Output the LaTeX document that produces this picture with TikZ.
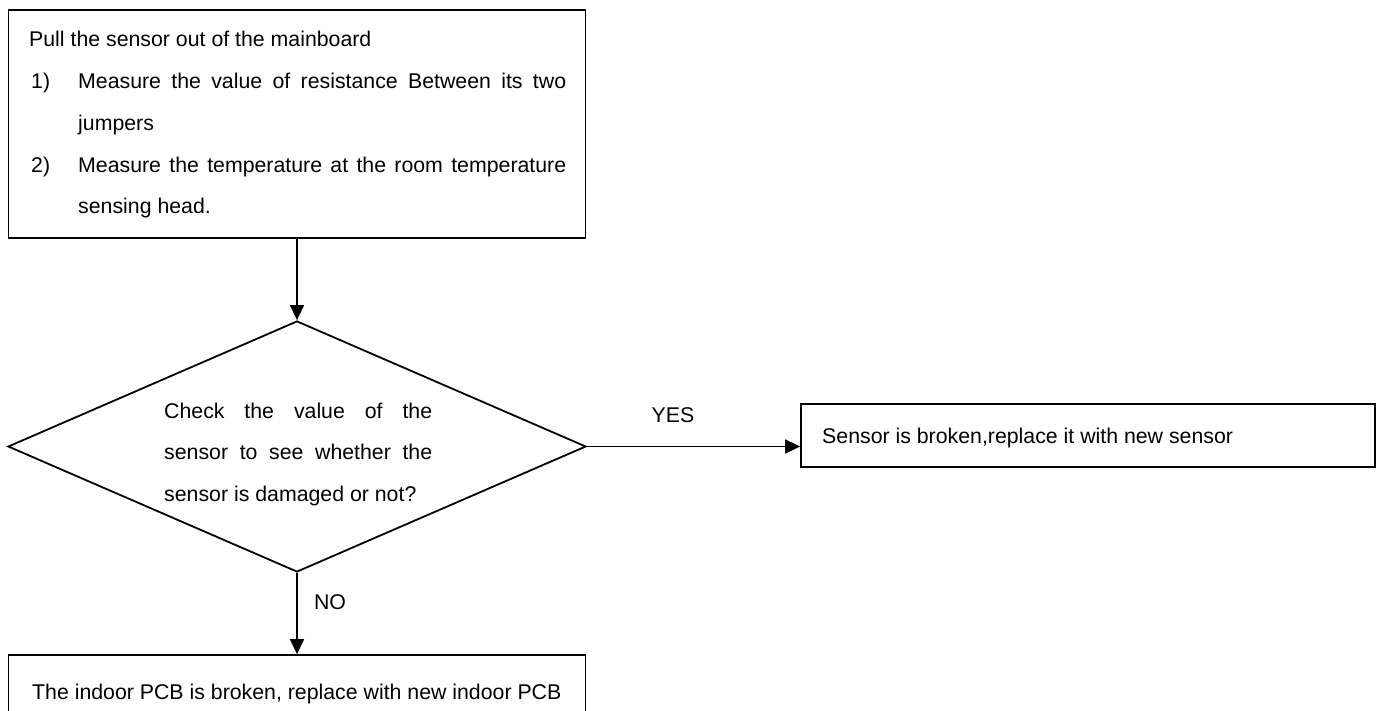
\documentclass[tikz,border=0pt]{standalone}
\usepackage{fontspec}
\setmainfont{Liberation Sans}
\usetikzlibrary{shapes.geometric,arrows.meta}
\begin{document}
\begin{tikzpicture}[x=1pt,y=-1pt,
  font=\fontsize{21.3pt}{25pt}\selectfont,
  boxstyle/.style={draw, rectangle, line width=1.8pt, inner sep=0pt},
  decstyle/.style={draw, diamond, line width=1.8pt, inner sep=0pt},
  txt/.style={anchor=base west, inner sep=0pt},
  lbl/.style={anchor=center, inner sep=0pt},
  arr/.style={line width=1.6pt, -{Triangle[length=15pt,width=14pt]}}]
\useasboundingbox (0,0) rectangle (1384,711);
\clip (0,0) rectangle (1384,711);
\fill[white] (0,0) rectangle (1384,711);

% top box
\node[boxstyle, minimum width=577pt, minimum height=228pt] (top) at (297,124) {};
\node[txt] (t1) at (29,47) {Pull the sensor out of the mainboard};
\node[txt] (n1) at (31,88.75) {1)};
\node[txt] (t2) at (78,88.75) {\makebox[488pt][s]{Measure the value of resistance Between its two}};
\node[txt] (t3) at (78,130.5) {jumpers};
\node[txt] (n2) at (31,172.25) {2)};
\node[txt] (t4) at (78,172.25) {\makebox[488pt][s]{Measure the temperature at the room temperature}};
\node[txt] (t5) at (78,214) {sensing head.};

% decision
\node[decstyle, minimum width=578pt, minimum height=251pt] (dia) at (297,446.5) {};
\node[txt] (d1) at (164,418.6) {\makebox[268pt][s]{Check the value of the}};
\node[txt] (d2) at (164,459.5) {\makebox[268pt][s]{sensor to see whether the}};
\node[txt] (d3) at (164,501.5) {sensor is damaged or not?};

% right box
\node[boxstyle, minimum width=574pt, minimum height=63pt] (rb) at (1088,435.5) {};
\node[txt] (r1) at (822,443.5) {Sensor is broken,replace it with new sensor};

% bottom box
\node[boxstyle, minimum width=577pt, minimum height=75pt] (bb) at (297,692.5) {};
\node[txt] (b1) at (32,699.5) {The indoor PCB is broken, replace with new indoor PCB};

% connectors
\draw[arr] (top.south) -- (dia.north);
\draw[arr] (dia.east) -- (dia.east -| rb.west);
\draw[arr] (dia.south) -- (bb.north);
\node[lbl] (yes) at (673,415) {YES};
\node[lbl] (no) at (330,602) {NO};
\end{tikzpicture}
\end{document}
